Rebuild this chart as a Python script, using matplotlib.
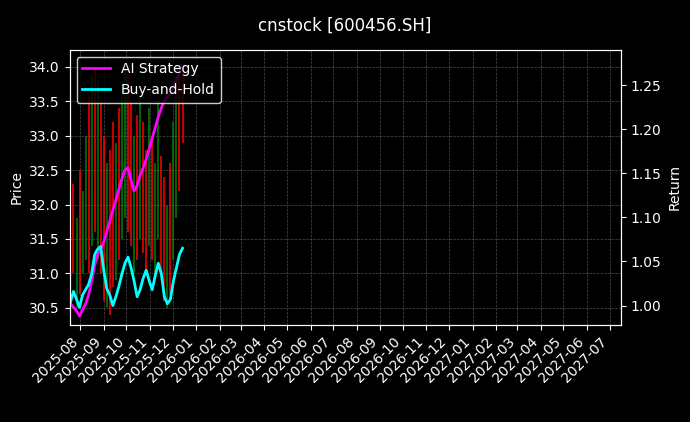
import numpy as np
import pandas as pd
import matplotlib
matplotlib.use("Agg")
import matplotlib.pyplot as plt
import matplotlib.dates as mdates

# ---------------- data ---------------- #
dates = pd.date_range("2025-07-19", periods=38, freq="4D")

ai_return = [1.002, 0.998, 0.994, 0.988, 0.995, 1.002, 1.012, 1.028, 1.046, 1.058,
             1.064, 1.072, 1.084, 1.096, 1.108, 1.120, 1.132, 1.144, 1.154, 1.156,
             1.142, 1.130, 1.136, 1.148, 1.156, 1.166, 1.178, 1.190, 1.202, 1.214,
             1.224, 1.232, 1.236, 1.240, 1.248, 1.256, 1.264, 1.272]
bh_return = [1.004, 1.016, 1.007, 0.998, 1.012, 1.018, 1.024, 1.036, 1.058, 1.064,
             1.067, 1.040, 1.019, 1.012, 1.000, 1.010, 1.022, 1.036, 1.048, 1.055,
             1.043, 1.028, 1.010, 1.018, 1.031, 1.040, 1.028, 1.018, 1.034, 1.048,
             1.036, 1.010, 1.002, 1.007, 1.028, 1.043, 1.058, 1.065]

price_high = [32.0, 32.3, 31.8, 32.5, 32.2, 33.0, 33.6, 33.9, 34.0, 33.8,
              33.5, 33.0, 32.6, 32.8, 33.2, 32.9, 33.4, 33.8, 34.0, 33.9,
              33.5, 33.0, 33.3, 33.6, 33.2, 32.8, 33.4, 33.0, 32.6, 33.5,
              32.7, 32.4, 32.0, 32.6, 33.2, 33.6, 33.9, 34.0]
price_low = [30.8, 31.0, 30.5, 30.7, 31.0, 31.2, 31.0, 31.4, 31.6, 31.2,
             31.0, 30.6, 30.5, 30.4, 30.8, 30.9, 31.2, 31.5, 31.8, 31.6,
             31.4, 31.0, 31.2, 31.5, 31.3, 31.0, 31.4, 31.2, 30.9, 31.5,
             31.0, 30.6, 30.5, 30.7, 31.2, 31.8, 32.2, 32.9]
price_up = [1, 0, 1, 0, 1, 1, 0, 1, 0, 1,
            0, 0, 1, 0, 0, 1, 0, 1, 1, 0,
            0, 1, 0, 1, 0, 0, 1, 0, 1, 1,
            0, 0, 1, 0, 1, 1, 0, 0]

# ---------------- plot ---------------- #
plt.style.use("dark_background")
fig, ax = plt.subplots(figsize=(6.9, 4.22), dpi=100)
fig.subplots_adjust(left=0.101, right=0.9, top=0.882, bottom=0.23)
fig.suptitle("cnstock [600456.SH]", fontsize=12, y=0.96)

colors = ["green" if u else "red" for u in price_up]
ax.vlines(dates, price_low, price_high, colors=colors, linewidth=1.3, alpha=0.85)
ax.set_ylabel("Price")
ax.set_ylim(30.25, 34.25)
ax.grid(True, linestyle="--", linewidth=0.5, color="grey", alpha=0.6)

ax2 = ax.twinx()
ax2.plot(dates, ai_return, color="magenta", linewidth=2, label="AI Strategy")
ax2.plot(dates, bh_return, color="cyan", linewidth=2, label="Buy-and-Hold")
ax2.set_ylabel("Return")
ax2.set_ylim(0.978, 1.29)
ax2.legend(loc="upper left", facecolor="black", edgecolor="white")

ax.set_xlim(pd.Timestamp("2025-07-18"), pd.Timestamp("2027-07-16"))
ax.xaxis.set_major_locator(mdates.MonthLocator())
ax.xaxis.set_major_formatter(mdates.DateFormatter("%Y-%m"))
plt.setp(ax.get_xticklabels(), rotation=45, ha="right")

fig.savefig("out.png", dpi=100, facecolor="black")
